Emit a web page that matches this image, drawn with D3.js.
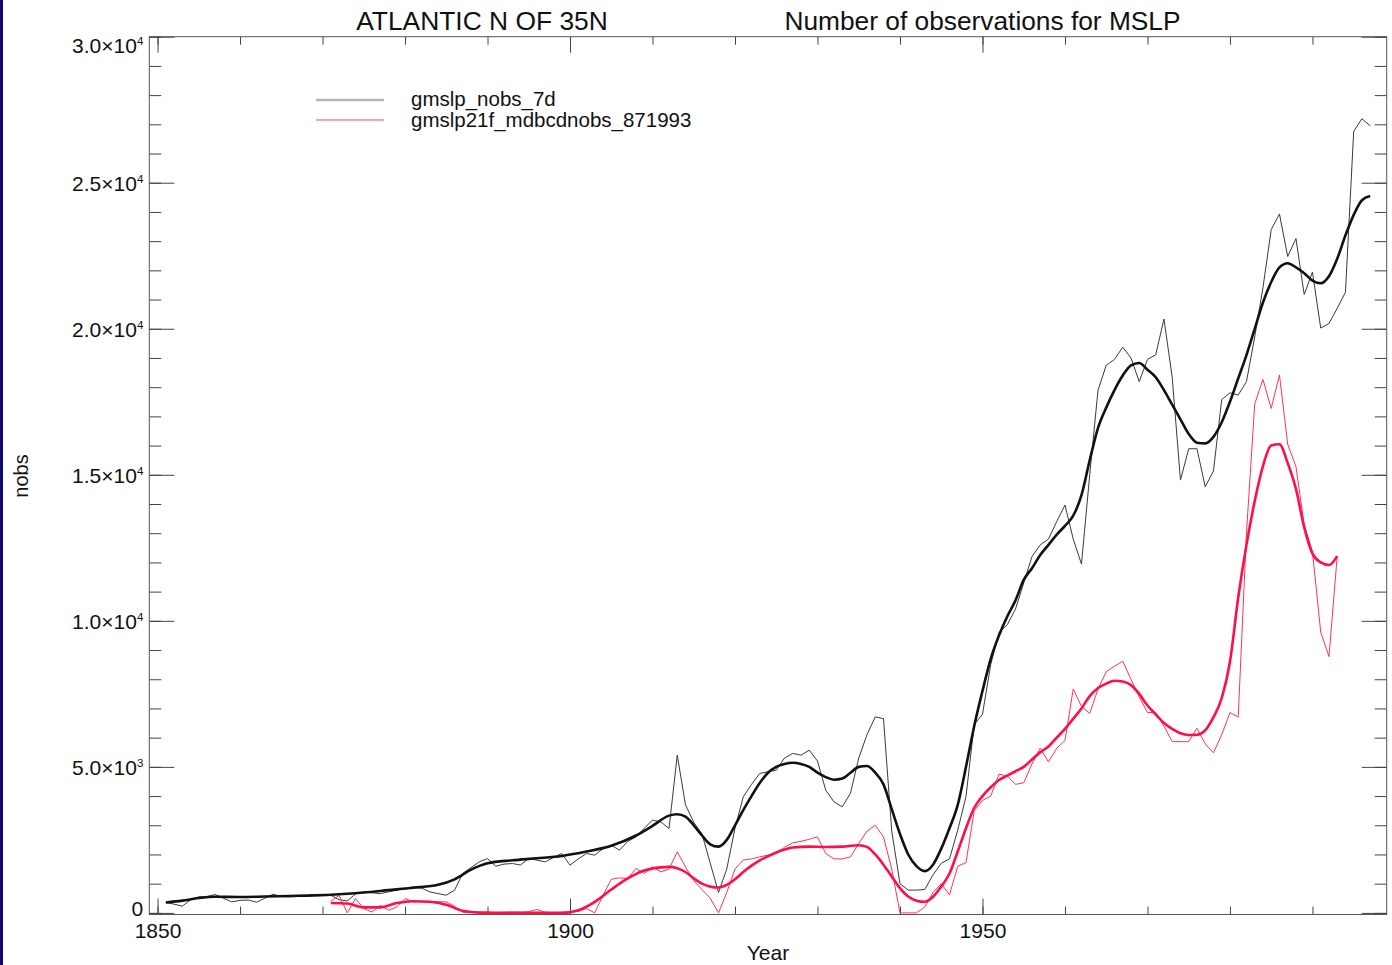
<!DOCTYPE html>
<html>
<head>
<meta charset="utf-8">
<script src="https://cdn.jsdelivr.net/npm/d3@7/dist/d3.min.js"></script>
<style>
  html, body { margin: 0; padding: 0; background: #fff; }
  svg text { font-family: 'Liberation Sans', Arial, Helvetica, sans-serif; fill: #111; }
</style>
</head>
<body>
<svg id="chart" width="1392" height="965"></svg>
<script>

// gmslp_nobs_7d, one value per year 1851-1997
var nobsYears = d3.range(1851, 1998);
var nobs7d = [
  356, 300, 230, 450, 550, 560, 630, 500, 377,                 // 1851-59
  430, 440, 366, 500, 640, 560, 550, 560, 580, 630,            // 1860s
  620, 605, 450, 410, 650, 720, 690, 660, 720, 780,            // 1870s
  840, 890, 850, 720, 660, 606, 777, 1350, 1550, 1750,         // 1880s
  1860, 1600, 1670, 1690, 1640, 1862, 1805, 1747, 1900, 2034,  // 1890s
  1633, 1850, 2034, 1976, 2200, 2318, 2147, 2450, 2600, 2900,  // 1900s
  3175, 3117, 2890, 5400, 3700, 3100, 2700, 1700, 700, 1500,   // 1910s
  2900, 3973, 4400, 4774, 4830, 4887, 5300, 5460, 5400, 5572,  // 1920s
  5200, 4200, 3800, 3630, 4100, 5300, 6100, 6713, 6650, 2800,  // 1930s
  1000, 780, 780, 800, 1300, 1700, 1850, 2832, 3980, 6450,     // 1940s
  6800, 8500, 9600, 9864, 10400, 11300, 12200, 12600, 12800, 13400,      // 1950s
  13964, 12800, 11943, 15000, 17889, 18750, 18950, 19370, 19000, 18190,  // 1960s
  18953, 19108, 20334, 18340, 14820, 15892, 15892, 14590, 15130, 17577,  // 1970s
  17806, 17730, 18190, 19720, 21403, 23395, 23930, 22474, 23088, 21173,  // 1980s
  21940, 20025, 20180, 20700, 21250, 26760, 27190, 26950                 // 1990-97
];

// smoothed curve of gmslp_nobs_7d
var nobsSmoothYears = [1851, 1853, 1855, 1857, 1860, 1863, 1866, 1869, 1872, 1875, 1878, 1881, 1884, 1886, 1888,
  1890, 1893, 1896, 1899, 1902, 1905, 1908, 1910, 1912, 1913, 1914, 1915, 1916, 1917, 1918, 1919,
  1920, 1921, 1922, 1923, 1924, 1925, 1926, 1927, 1928, 1929, 1930, 1931, 1932, 1933, 1934, 1935, 1936, 1937, 1938, 1939,
  1940, 1941, 1942, 1943, 1944, 1945, 1946, 1947, 1948, 1949, 1950, 1951, 1952, 1953, 1954, 1955, 1956, 1957, 1958, 1959,
  1960, 1961, 1962, 1963, 1964, 1965, 1966, 1967, 1968, 1969, 1970, 1971, 1972, 1973, 1974, 1975, 1976, 1977, 1978, 1979,
  1980, 1981, 1982, 1983, 1984, 1985, 1986, 1987, 1988, 1989, 1990, 1991, 1992, 1993, 1994, 1995, 1996, 1997];
var nobsSmooth = [356, 420, 510, 555, 545, 560, 580, 600, 640, 700, 780, 860, 960, 1150, 1480,
  1700, 1800, 1870, 1950, 2100, 2300, 2650, 2980, 3330, 3380, 3300, 3000, 2650, 2350, 2270, 2500,
  3000, 3520, 4000, 4450, 4800, 5000, 5100, 5140, 5100, 5000, 4800, 4650, 4560, 4600, 4800, 5000, 5030, 4800, 4400, 3550,
  2700, 2000, 1600, 1430, 1650, 2200, 2900, 3700, 5000, 6400, 7600, 8700, 9500, 10150, 10700, 11400, 11800, 12250, 12600, 12950,
  13250, 13600, 14300, 15500, 16600, 17300, 17900, 18400, 18750, 18830, 18600, 18340, 17900, 17400, 16900, 16400, 16100, 16077, 16300, 16800,
  17500, 18300, 19100, 20000, 20900, 21600, 22100, 22245, 22100, 21900, 21650, 21558, 21800, 22400, 23200, 23900, 24400, 24543];

// gmslp21f_mdbcdnobs_871993, one value per year 1871-1993
var mdbYears = d3.range(1871, 1994);
var mdbNobs = [
  400, 600, 0, 490, 150, 30, 260, 90, 200,                     // 1871-79
  490, 380, 390, 380, 380, 377, 230, 20, 10, 20,               // 1880s
  30, 10, 20, 30, 20, 40, 116, 20, 10, 20,                     // 1890s
  30, 50, 150, 0, 600, 1150, 1200, 1180, 1520, 1350,           // 1900s
  1575, 1404, 1500, 2090, 1575, 1100, 800, 500, 0, 700,        // 1910s
  1500, 1810, 1850, 1918, 1980, 2034, 2250, 2400, 2450, 2520,  // 1920s
  2603, 2034, 1850, 1850, 1918, 2377, 2800, 3000, 2600, 1500,  // 1930s
  0, 0, 0, 200, 700, 1000, 620, 1600, 1720, 3500,              // 1940s
  3850, 4000, 4750, 4692, 4400, 4456, 5100, 5640, 5168, 5640,  // 1950s
  5900, 7665, 7069, 6833, 7665, 8257, 8450, 8614, 8000, 7400,  // 1960s
  6860, 6860, 6400, 5863, 5863, 5863, 6323, 5788, 5480, 6100,  // 1970s
  6860, 6706, 13000, 17423, 18265, 17272, 18419, 16045, 15278, 13289,  // 1980s
  12370, 9614, 8775, 12217                                     // 1990-93
];

// smoothed curve of the mdb counts
var mdbSmoothYears = [1871, 1873, 1875, 1877, 1879, 1881, 1883, 1885, 1887, 1889, 1892, 1896, 1899,
  1901, 1903, 1905, 1907, 1909, 1911, 1912, 1913, 1914, 1915, 1916, 1917, 1918, 1919,
  1920, 1921, 1922, 1923, 1924, 1925, 1926, 1927, 1929, 1931, 1933, 1935, 1936, 1937, 1938, 1939,
  1940, 1941, 1942, 1943, 1944, 1945, 1946, 1947, 1948, 1949, 1950, 1951, 1952, 1953, 1954, 1955, 1956, 1957, 1958, 1959,
  1960, 1961, 1962, 1963, 1964, 1965, 1966, 1967, 1968, 1969, 1970, 1971, 1972, 1973, 1974, 1975, 1976, 1977, 1978, 1979,
  1980, 1981, 1982, 1983, 1984, 1985, 1986, 1987, 1988, 1989, 1990, 1991, 1992, 1993];
var mdbSmooth = [340, 320, 190, 190, 340, 400, 380, 280, 70, 10, 0, 0, 0,
  90, 380, 800, 1180, 1450, 1560, 1575, 1530, 1400, 1180, 1000, 900, 870, 960,
  1150, 1400, 1620, 1800, 1940, 2070, 2170, 2240, 2270, 2255, 2270, 2318, 2260, 2000, 1650, 1250,
  850, 560, 420, 380, 550, 900, 1350, 2100, 2900, 3600, 4000, 4300, 4550, 4700, 4850, 5000, 5250, 5500, 5700, 6000,
  6300, 6650, 7000, 7420, 7700, 7850, 7950, 7920, 7800, 7500, 7100, 6800, 6500, 6300, 6150, 6093, 6100, 6250, 6700, 7350,
  8600, 10800, 12600, 14100, 15300, 16000, 16045, 15400, 14514, 13200, 12300, 12000, 11912, 12217];

// axes
var xMajorTicks = [1850, 1900, 1950];
var xMinorTicks = d3.range(1850, 1999, 10);
var yMajorTicks = d3.range(0, 30001, 5000);
var yMinorTicks = d3.range(0, 30001, 1000);
var yTickMantissa = ['0', '5.0\u00d710', '1.0\u00d710', '1.5\u00d710', '2.0\u00d710', '2.5\u00d710', '3.0\u00d710'];
var yTickExponent = ['', '3', '4', '4', '4', '4', '4'];

var seriesNames = ['gmslp_nobs_7d', 'gmslp21f_mdbcdnobs_871993'];

function drawChart(){
  var svg = d3.select('#chart');
  var pl = 149.3, pr = 1386.7, pt = 36.7, pb = 914.5;

  var x = d3.scaleLinear().domain([1849, 1999]).range([pl, pr]);
  var y = d3.scaleLinear().domain([-55, 30000]).range([pb, pt]);

  // navy strip on the left edge
  svg.append('rect').attr('x', 0).attr('y', 0).attr('width', 3).attr('height', 965).attr('fill', '#0a0a6e');

  svg.append('clipPath').attr('id', 'plotClip')
    .append('rect').attr('x', pl).attr('y', pt).attr('width', pr - pl).attr('height', pb - pt);

  // tick marks, all pointing inward
  function tickGroup(axis, tx, ty){
    var g = svg.append('g').attr('transform', 'translate(' + tx + ',' + ty + ')').call(axis);
    g.select('.domain').remove();
    g.selectAll('line').attr('stroke', '#444').attr('stroke-width', 1);
    g.selectAll('text').remove();
    return g;
  }
  tickGroup(d3.axisTop(x).tickValues(xMinorTicks).tickSize(8), 0, pb);
  tickGroup(d3.axisTop(x).tickValues(xMajorTicks).tickSize(16), 0, pb);
  tickGroup(d3.axisBottom(x).tickValues(xMinorTicks).tickSize(8), 0, pt);
  tickGroup(d3.axisBottom(x).tickValues(xMajorTicks).tickSize(16), 0, pt);
  tickGroup(d3.axisRight(y).tickValues(yMinorTicks).tickSize(12), pl, 0);
  tickGroup(d3.axisRight(y).tickValues(yMajorTicks).tickSize(25), pl, 0);
  tickGroup(d3.axisLeft(y).tickValues(yMinorTicks).tickSize(12), pr, 0);
  tickGroup(d3.axisLeft(y).tickValues(yMajorTicks).tickSize(25), pr, 0);

  // frame
  svg.append('rect').attr('x', pl).attr('y', pt).attr('width', pr - pl).attr('height', pb - pt)
    .attr('fill', 'none').attr('stroke', '#555').attr('stroke-width', 1);

  // x labels
  var xLab = svg.append('g').attr('transform', 'translate(0,' + pb + ')')
    .call(d3.axisBottom(x).tickValues(xMajorTicks).tickSize(0).tickPadding(9).tickFormat(d3.format('d')));
  xLab.select('.domain').remove();
  xLab.selectAll('text').attr('font-size', 21).attr('fill', '#111').attr('font-family', null);

  // y labels with superscript exponent
  var yLab = svg.append('g').attr('transform', 'translate(' + (pl - 6) + ',0)')
    .call(d3.axisLeft(y).tickValues(yMajorTicks).tickSize(0).tickPadding(0).tickFormat(''));
  yLab.select('.domain').remove();
  yLab.selectAll('text').each(function(d, i){
    var t = d3.select(this).attr('font-size', 21).attr('fill', '#111').attr('font-family', null).attr('dy', '0.36em');
    if(i === 0) t.attr('y', -5);
    if(i === yMajorTicks.length - 1) t.attr('y', 8);
    t.append('tspan').text(yTickMantissa[i]);
    if(yTickExponent[i]) t.append('tspan').attr('font-size', 11.5).attr('dy', -8).text(yTickExponent[i]);
  });

  // series
  var line = d3.line().x(function(d){ return x(d[0]); }).y(function(d){ return y(d[1]); });
  var smooth = d3.line().curve(d3.curveMonotoneX).x(function(d){ return x(d[0]); }).y(function(d){ return y(d[1]); });

  var plot = svg.append('g').attr('clip-path', 'url(#plotClip)');
  plot.append('path').datum(d3.zip(nobsYears, nobs7d)).attr('d', line)
    .attr('fill', 'none').attr('stroke', '#3a3a3a').attr('stroke-width', 1);
  plot.append('path').datum(d3.zip(mdbYears, mdbNobs)).attr('d', line)
    .attr('fill', 'none').attr('stroke', '#ff3358').attr('stroke-width', 1);
  plot.append('path').datum(d3.zip(nobsSmoothYears, nobsSmooth)).attr('d', smooth)
    .attr('fill', 'none').attr('stroke', '#111').attr('stroke-width', 2.6);
  plot.append('path').datum(d3.zip(mdbSmoothYears, mdbSmooth)).attr('d', smooth)
    .attr('fill', 'none').attr('stroke', '#ff0f45').attr('stroke-width', 2.6);

  // legend
  var legend = svg.append('g');
  legend.append('line').attr('x1', 316).attr('x2', 384).attr('y1', 100).attr('y2', 100)
    .attr('stroke', '#b4b4b4').attr('stroke-width', 2.5);
  legend.append('line').attr('x1', 316).attr('x2', 384).attr('y1', 120).attr('y2', 120)
    .attr('stroke', '#ff4068').attr('stroke-width', 1.2);
  legend.selectAll('text.leg').data(seriesNames).enter().append('text').attr('class', 'leg')
    .attr('x', 411).attr('y', function(d, i){ return 106 + i * 20.5; })
    .attr('font-size', 20.5).text(function(d){ return d; });

  // titles
  svg.append('text').attr('x', 482).attr('y', 30).attr('text-anchor', 'middle').attr('font-size', 26.4).text('ATLANTIC N OF 35N');
  svg.append('text').attr('x', 982.5).attr('y', 30).attr('text-anchor', 'middle').attr('font-size', 26.3).text('Number of observations for MSLP');

  svg.append('text').attr('x', 768).attr('y', 960).attr('text-anchor', 'middle').attr('font-size', 21).text('Year');
  svg.append('text').attr('transform', 'translate(28,476) rotate(-90)').attr('text-anchor', 'middle').attr('font-size', 20).text('nobs');
}

drawChart();

</script>
</body>
</html>
